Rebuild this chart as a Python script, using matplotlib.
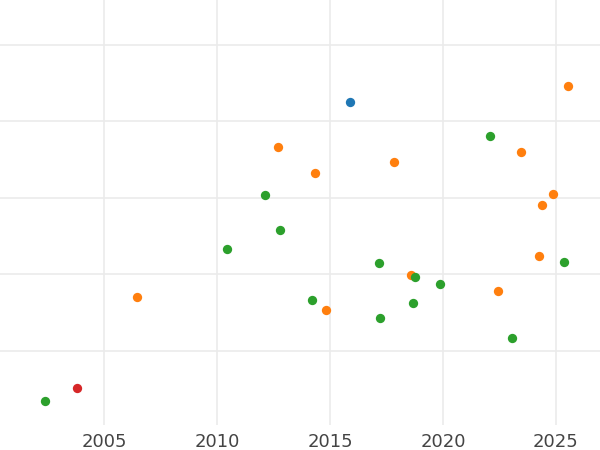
import matplotlib
matplotlib.use('Agg')
import matplotlib.pyplot as plt

# four groups
blue_x = [2015.88]
blue_y = [85.0]
red_x = [2003.81]
red_y = [10.2]
green_x = [2002.39, 2010.46, 2012.11, 2012.77, 2014.2, 2017.17, 2017.21,
           2018.68, 2018.76, 2019.85, 2022.08, 2023.07, 2025.36]
green_y = [6.8, 46.6, 60.8, 51.5, 33.2, 42.9, 28.5,
           32.4, 39.2, 37.4, 76.1, 23.3, 43.1]
orange_x = [2006.47, 2012.70, 2014.34, 2014.84, 2017.82, 2018.59,
            2022.44, 2023.45, 2024.24, 2024.38, 2024.89, 2025.53]
orange_y = [34.0, 73.2, 66.5, 30.6, 69.5, 39.9,
            35.6, 72.1, 44.7, 58.0, 60.9, 89.4]
xticks = [2005, 2010, 2015, 2020, 2025]
yticks = [20, 40, 60, 80, 100]

fig = plt.figure(figsize=(6, 4.5), dpi=100)
ax = fig.add_axes([0, 1 - 425 / 450, 1, 425 / 450])

ax.scatter(blue_x, blue_y, s=45, color='#1f77b4', linewidths=0, zorder=3)
ax.scatter(orange_x, orange_y, s=45, color='#ff7f0e', linewidths=0, zorder=3)
ax.scatter(green_x, green_y, s=45, color='#2ca02c', linewidths=0, zorder=3)
ax.scatter(red_x, red_y, s=45, color='#d62728', linewidths=0, zorder=3)

ax.set_xlim(2000.4, 2026.95)
ax.set_ylim(0.52, 111.8)
ax.set_xticks(xticks)
ax.set_yticks(yticks)
ax.set_yticklabels([])
ax.tick_params(axis='both', length=0)
ax.tick_params(axis='x', labelsize=13, labelcolor='#444444', pad=5.5)
ax.grid(True, color='#ebebeb', linewidth=1.2)
ax.set_axisbelow(True)
for s in ax.spines.values():
    s.set_visible(False)

fig.savefig('out.png', dpi=100)
